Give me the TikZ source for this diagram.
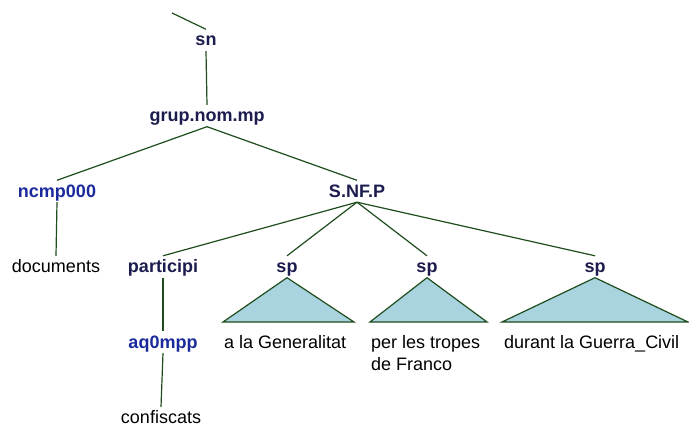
\documentclass[tikz,border=0pt]{standalone}
\usepackage{fontspec}
\setmainfont{Liberation Sans}
\definecolor{lab}{HTML}{1C1C4E}
\definecolor{pos}{HTML}{1A2A9C}
\definecolor{edge}{HTML}{1E4D1E}
\definecolor{trifill}{HTML}{AAD3E0}
\begin{document}
\begin{tikzpicture}[x=1pt,y=-1pt,
  every node/.style={inner sep=0pt,text height=16.5pt,text depth=5pt,anchor=base,font=\fontsize{18}{22}\selectfont},
  cat/.style={text=lab,font=\fontsize{18}{22}\selectfont\bfseries},
  tag/.style={text=pos,font=\fontsize{18}{22}\selectfont\bfseries},
  word/.style={text=black},
  phrase/.style={anchor=base west,text=black,text height=,text depth=,align=left},
  link/.style={draw=edge,line width=1.2pt},
  tri/.style={draw=edge,fill=trifill,line width=1.2pt,line join=miter}]
\fill[white] (0,0) rectangle (689,428);
\useasboundingbox (0,0) rectangle (689,428);
\node[cat] (sn) at (206,46) {sn};
\node[cat] (grup) at (207,121.5) {grup.nom.mp};
\node[tag] (ncmp) at (57,197) {ncmp000};
\node[cat] (snfp) at (357,197) {S.NF.P};
\node[word] (docs) at (56,272.5) {documents};
\node[cat] (part) at (163,272.5) {participi};
\node[cat] (sp1) at (287,272.5) {sp};
\node[cat] (sp2) at (427,272.5) {sp};
\node[cat] (sp3) at (595,272.5) {sp};
\node[tag] (aq) at (163,348) {aq0mpp};
\node[word] (conf) at (161,423.5) {confiscats};
\coordinate (top) at (172,13);
\draw[link] (top) -- (sn.north);
\draw[link] (sn.south) -- (grup.north);
\draw[link] (grup.south) -- (ncmp.north);
\draw[link] (grup.south) -- (snfp.north);
\draw[link] (ncmp.south) -- (docs.north);
\draw[link] (snfp.south) -- (part.north);
\draw[link] (snfp.south) -- (sp1.north);
\draw[link] (snfp.south) -- (sp2.north);
\draw[link] (snfp.south) -- (sp3.north);
\draw[link] (part.south) -- (aq.north);
\draw[link] (aq.south) -- (conf.north);
\coordinate (t1l) at (223,322); \coordinate (t1r) at (354,322);
\coordinate (t2l) at (370,322); \coordinate (t2r) at (487,322);
\coordinate (t3l) at (502,322); \coordinate (t3r) at (688,322);
\draw[tri] (sp1.south) -- (t1l) -- (t1r) -- cycle;
\draw[tri] (sp2.south) -- (t2l) -- (t2r) -- cycle;
\draw[tri] (sp3.south) -- (t3l) -- (t3r) -- cycle;
\node[phrase] (p1) at (224,348) {a la Generalitat};
\node[phrase] (p2) at (371,370) {per les tropes\\de Franco};
\node[phrase] (p3) at (504,348) {durant la Guerra\_Civil};
\end{tikzpicture}
\end{document}
